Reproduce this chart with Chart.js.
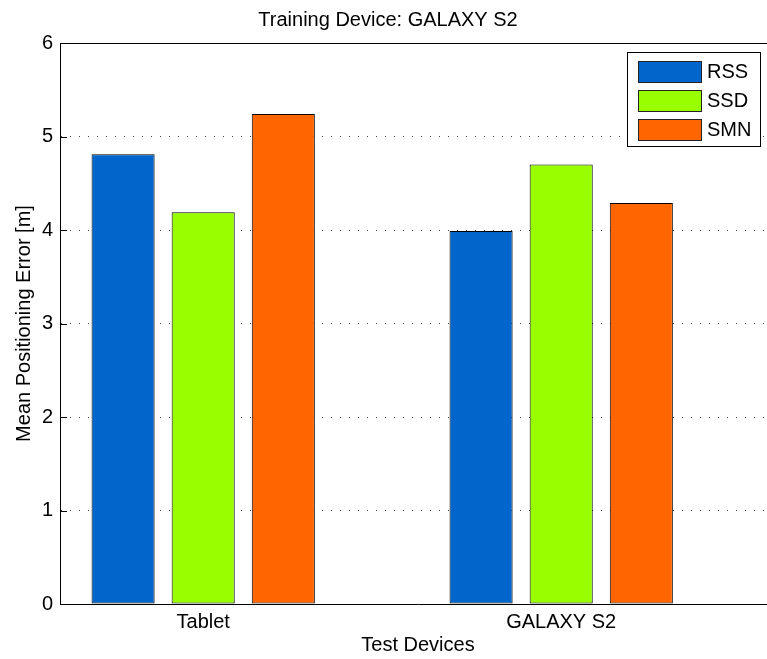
<!DOCTYPE html>
<html>
<head>
<meta charset="utf-8">
<script src="https://cdn.jsdelivr.net/npm/chart.js@4/dist/chart.umd.min.js"></script>
<style>
  html, body { margin: 0; padding: 0; background: #fff; overflow: hidden; }
  #wrap { width: 800px; height: 659px; }
</style>
</head>
<body>
<div id="wrap"><canvas id="c" width="800" height="659"></canvas></div>
<script>
// ---- data ----
const categories = ['Tablet', 'GALAXY S2'];
const seriesNames = ['RSS', 'SSD', 'SMN'];
const rssValues = [4.81, 3.99];
const ssdValues = [4.19, 4.70];
const smnValues = [5.24, 4.29];
const yTickValues = [0, 1, 2, 3, 4, 5, 6];
const chartTitle = 'Training Device: GALAXY S2';
const xTitle = 'Test Devices';
const yTitle = 'Mean Positioning Error [m]';

const seriesColors = ['#0066CC', '#99FF00', '#FF6600'];
const FONT = "'Liberation Sans', Arial, Helvetica, sans-serif";

function toPoints(vals) { return vals.map((v, i) => ({ x: i + 1, y: v })); }
const seriesValues = [rssValues, ssdValues, smnValues];

const datasets = seriesNames.map((name, i) => ({
  label: name,
  data: toPoints(seriesValues[i]),
  backgroundColor: seriesColors[i],
  borderColor: '#000',
  borderWidth: 1,
  borderSkipped: false,
  categoryPercentage: 0.6713,
  barPercentage: 0.7875
}));

const framePlugin = {
  id: 'frame',
  afterDatasetsDraw(chart) {
    const { ctx, chartArea: a, scales } = chart;
    ctx.save();
    ctx.strokeStyle = '#000';
    ctx.lineWidth = 1;
    ctx.beginPath();
    ctx.moveTo(a.left, a.top + 0.5);
    ctx.lineTo(a.right, a.top + 0.5);
    ctx.stroke();
    const ys = scales.y;
    ys.ticks.forEach(t => {
      const py = Math.round(ys.getPixelForValue(t.value)) + 0.5;
      ctx.beginPath();
      ctx.moveTo(a.left, py);
      ctx.lineTo(a.left + 7, py);
      ctx.stroke();
    });
    ctx.restore();
  }
};

const legendPlugin = {
  id: 'boxLegend',
  afterDraw(chart) {
    const { ctx } = chart;
    const ds = chart.data.datasets;
    const boxRight = 760, boxLeft = 627, boxTop = 52.5, rowH = 29;
    const boxBottom = boxTop + 9 + ds.length * rowH - 2;
    ctx.save();
    ctx.fillStyle = '#fff';
    ctx.strokeStyle = '#000';
    ctx.lineWidth = 1;
    ctx.fillRect(boxLeft + 0.5, boxTop, boxRight - boxLeft, boxBottom - boxTop);
    ctx.strokeRect(boxLeft + 0.5, boxTop, boxRight - boxLeft, boxBottom - boxTop);
    ctx.font = '20px ' + FONT;
    ctx.textBaseline = 'middle';
    ds.forEach((d, i) => {
      const y = Math.round(boxTop + 8 + i * rowH) + 0.5;
      ctx.fillStyle = d.backgroundColor;
      ctx.fillRect(638.5, y, 63, 21);
      ctx.strokeStyle = '#222';
      ctx.strokeRect(638.5, y, 63, 21);
      ctx.fillStyle = '#000';
      ctx.fillText(d.label, 707, y + 11);
    });
    ctx.restore();
  }
};

new Chart(document.getElementById('c'), {
  type: 'bar',
  data: { datasets },
  plugins: [framePlugin, legendPlugin],
  options: {
    responsive: false,
    animation: false,
    devicePixelRatio: 1,
    layout: { padding: { left: 0, right: 24, top: 0, bottom: 0 } },
    plugins: {
      legend: { display: false },
      tooltip: { enabled: false },
      title: {
        display: true,
        text: chartTitle,
        color: '#000',
        font: { family: FONT, size: 20, weight: 'normal' },
        padding: { top: 8, bottom: 11 }
      }
    },
    scales: {
      x: {
        type: 'linear',
        offset: false,
        min: 0.6,
        max: 2.6,
        afterBuildTicks(scale) {
          scale.ticks = categories.map((c, i) => ({ value: i + 1 }));
        },
        afterFit(scale) { scale.height = 55; },
        grid: { display: false, drawTicks: false, offset: false },
        border: { display: true, color: '#000', width: 1 },
        ticks: {
          color: '#000',
          font: { family: FONT, size: 20 },
          padding: 6,
          maxRotation: 0,
          callback: (v) => categories[Math.round(v) - 1] || ''
        },
        title: {
          display: true,
          text: xTitle,
          color: '#000',
          font: { family: FONT, size: 20 },
          padding: { top: 0, bottom: 2 }
        }
      },
      y: {
        min: 0,
        max: 6,
        afterBuildTicks(scale) {
          scale.ticks = yTickValues.map(v => ({ value: v }));
        },
        afterFit(scale) { scale.width = 60; },
        grid: {
          drawTicks: false,
          color: (ctx) => (ctx.tick && (ctx.tick.value === 0 || ctx.tick.value === 6)) ? 'rgba(0,0,0,0)' : '#444',
          lineWidth: 1
        },
        border: { display: true, color: '#000', width: 1, dash: [1, 8] },
        ticks: {
          color: '#000',
          font: { family: FONT, size: 20 },
          padding: 7
        },
        title: {
          display: true,
          text: yTitle,
          color: '#000',
          font: { family: FONT, size: 20 },
          padding: { top: 12, bottom: 0 }
        }
      }
    }
  }
});
</script>
</body>
</html>
